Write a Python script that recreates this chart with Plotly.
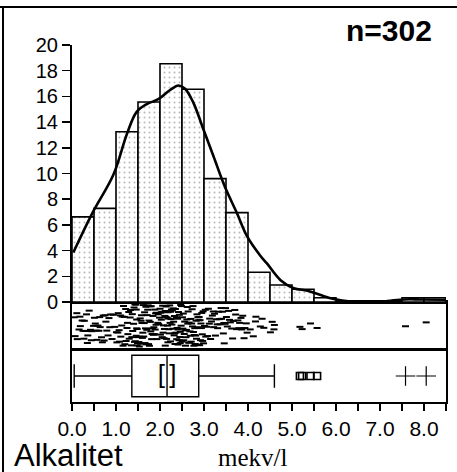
import plotly.graph_objects as go

# ---------------- data ----------------
# individual observations (mekv/l), estimated from the strip plot / histogram
values_bin_00 = [0.05, 0.07, 0.11, 0.12, 0.16, 0.18, 0.19, 0.23, 0.25, 0.27,
                 0.28, 0.31, 0.33, 0.35, 0.36, 0.39, 0.42, 0.44, 0.45, 0.49]
values_bin_05 = [0.51, 0.53, 0.55, 0.57, 0.59, 0.61, 0.63, 0.64, 0.67, 0.69,
                 0.71, 0.73, 0.75, 0.77, 0.79, 0.82, 0.84, 0.86, 0.88, 0.91,
                 0.94, 0.97]
values_bin_10 = [1.01, 1.02, 1.04, 1.05, 1.07, 1.08, 1.10, 1.11, 1.13, 1.14,
                 1.16, 1.17, 1.19, 1.20, 1.22, 1.23, 1.25, 1.26, 1.27, 1.29,
                 1.30, 1.32, 1.33, 1.35, 1.36, 1.37, 1.38, 1.40, 1.41, 1.42,
                 1.43, 1.44, 1.45, 1.46, 1.46, 1.47, 1.47, 1.48, 1.48, 1.49]
values_bin_15 = [1.51, 1.52, 1.53, 1.54, 1.55, 1.56, 1.57, 1.58, 1.59, 1.60,
                 1.61, 1.62, 1.63, 1.64, 1.65, 1.66, 1.67, 1.68, 1.69, 1.70,
                 1.71, 1.72, 1.73, 1.74, 1.75, 1.76, 1.77, 1.78, 1.79, 1.80,
                 1.81, 1.82, 1.83, 1.84, 1.85, 1.86, 1.87, 1.88, 1.89, 1.90,
                 1.91, 1.92, 1.93, 1.95, 1.96, 1.97, 1.99]
values_bin_20 = [2.00, 2.01, 2.02, 2.03, 2.04, 2.05, 2.06, 2.07, 2.08, 2.09,
                 2.10, 2.11, 2.12, 2.13, 2.14, 2.15, 2.16, 2.17, 2.18, 2.19,
                 2.20, 2.21, 2.22, 2.23, 2.24, 2.25, 2.26, 2.27, 2.28, 2.29,
                 2.30, 2.31, 2.32, 2.33, 2.34, 2.35, 2.36, 2.37, 2.38, 2.39,
                 2.40, 2.41, 2.42, 2.43, 2.44, 2.45, 2.46, 2.47, 2.48, 2.49,
                 2.12, 2.18, 2.24, 2.33, 2.41, 2.46]
values_bin_25 = [2.50, 2.51, 2.52, 2.53, 2.54, 2.55, 2.56, 2.57, 2.58, 2.59,
                 2.60, 2.61, 2.62, 2.63, 2.64, 2.65, 2.66, 2.67, 2.68, 2.69,
                 2.70, 2.71, 2.72, 2.73, 2.74, 2.75, 2.76, 2.77, 2.78, 2.79,
                 2.80, 2.81, 2.82, 2.83, 2.84, 2.85, 2.86, 2.87, 2.88, 2.89,
                 2.90, 2.91, 2.92, 2.93, 2.94, 2.95, 2.96, 2.97, 2.98, 2.99]
values_bin_30 = [3.01, 3.03, 3.04, 3.06, 3.08, 3.10, 3.12, 3.13, 3.15, 3.17,
                 3.19, 3.21, 3.22, 3.24, 3.26, 3.28, 3.30, 3.31, 3.33, 3.35,
                 3.37, 3.39, 3.40, 3.42, 3.44, 3.45, 3.46, 3.48, 3.49]
values_bin_35 = [3.51, 3.53, 3.56, 3.58, 3.60, 3.63, 3.65, 3.67, 3.70, 3.72,
                 3.74, 3.77, 3.79, 3.81, 3.84, 3.86, 3.88, 3.91, 3.93, 3.96,
                 3.98]
values_bin_40 = [4.05, 4.12, 4.17, 4.18, 4.28, 4.32, 4.36]
values_bin_45 = [4.51, 4.55, 4.59, 4.60]
values_mild = [5.18, 5.23, 5.42, 5.57]
values_far = [7.58, 8.05]

values = (values_bin_00 + values_bin_05 + values_bin_10 + values_bin_15 +
          values_bin_20 + values_bin_25 + values_bin_30 + values_bin_35 +
          values_bin_40 + values_bin_45 + values_mild + values_far)

# density curve (percent per 0.5 bin)
curve_x = [0.03, 0.46, 0.94, 1.25, 1.47, 1.70, 1.97, 2.23, 2.42, 2.57, 2.76,
           2.99, 3.22, 3.47, 3.75, 3.98, 4.28, 4.43, 4.74, 5.04, 5.35, 5.65,
           5.95, 6.33, 6.86, 7.17, 7.55, 7.93, 8.50]
curve_y = [3.85, 6.9, 9.9, 13.1, 14.8, 15.4, 15.8, 16.5, 16.85, 16.6, 15.5,
           13.4, 11.3, 9.0, 6.9, 5.1, 3.6, 3.0, 1.7, 1.07, 0.88, 0.54,
           0.23, 0.03, 0.0, 0.08, 0.2, 0.2, 0.18]

# box plot statistics
box_q1 = 1.36
box_median = 2.16
box_q3 = 2.88
box_low = 0.05
box_high = 4.60
median_ci = [2.03, 2.29]

x_ticks = [0, 0.5, 1, 1.5, 2, 2.5, 3, 3.5, 4, 4.5, 5, 5.5, 6, 6.5, 7, 7.5, 8, 8.5]
x_ticktext = ["0.0", "", "1.0", "", "2.0", "", "3.0", "", "4.0", "", "5.0", "",
              "6.0", "", "7.0", "", "8.0", ""]
y_ticks = [0, 2, 4, 6, 8, 10, 12, 14, 16, 18, 20]

n_label = "n=302"
title_label = "Alkalitet"
unit_label = "mekv/l"

# ---------------- figure ----------------
W, H = 457, 472
def py(p):
    return 1 - p / H
def px(p):
    return p / W

X0, X1 = px(72), px(446)
FONT = "Liberation Sans, Arial, sans-serif"

fig = go.Figure()

# histogram (percent)
fig.add_trace(go.Histogram(
    x=values, histnorm="percent",
    xbins=dict(start=0, end=8.5, size=0.5), autobinx=False,
    marker=dict(color="white",
                line=dict(color="black", width=1.6),
                pattern=dict(shape=".", fgcolor="#b8b8b8", bgcolor="white",
                             size=5, solidity=0.12)),
    xaxis="x3", yaxis="y3", showlegend=False))

fig.add_trace(go.Scatter(
    x=curve_x, y=curve_y, mode="lines", line=dict(color="black", width=2.6, shape="spline"),
    xaxis="x3", yaxis="y3", showlegend=False))

# strip panel: points jittered by the library
fig.add_trace(go.Box(
    x=values, y0=0, orientation="h", boxpoints="all", jitter=1, pointpos=0,
    width=0.9, fillcolor="rgba(0,0,0,0)", line=dict(color="rgba(0,0,0,0)", width=0),
    marker=dict(symbol="line-ew", size=5, color="black",
                line=dict(color="black", width=2)),
    xaxis="x2", yaxis="y2", showlegend=False, hoverinfo="x"))

# box plot
fig.add_trace(go.Box(
    q1=[box_q1], median=[box_median], q3=[box_q3],
    lowerfence=[box_low], upperfence=[box_high], y=[0],
    orientation="h", width=0.8, whiskerwidth=0.57,
    fillcolor="white", line=dict(color="black", width=1.4),
    boxpoints=False, xaxis="x", yaxis="y", showlegend=False))

fig.add_trace(go.Scatter(
    x=median_ci, y=[0, 0], mode="text", text=["[", "]"],
    textfont=dict(family=FONT, size=26, color="black"),
    xaxis="x", yaxis="y", showlegend=False))

fig.add_trace(go.Scatter(
    x=values_mild, y=[0] * len(values_mild), mode="markers",
    marker=dict(symbol="square-open", size=7, color="black",
                line=dict(color="black", width=1.6)),
    xaxis="x", yaxis="y", showlegend=False))

fig.add_trace(go.Scatter(
    x=values_far, y=[0] * len(values_far), mode="markers",
    marker=dict(symbol="cross-thin-open", size=14, color="black",
                line=dict(color="black", width=1.2)),
    xaxis="x", yaxis="y", showlegend=False))

common_x = dict(range=[0, 8.5], showgrid=False, zeroline=False, domain=[X0, X1],
                automargin=False)

fig.update_layout(
    template="none",
    width=W, height=H, autosize=False,
    margin=dict(l=0, r=0, t=0, b=0, pad=0),
    paper_bgcolor="white", plot_bgcolor="white",
    font=dict(family=FONT, color="black"),
    xaxis=dict(**common_x, anchor="y", showline=True, linecolor="black", linewidth=2,
               mirror=True, ticks="outside", ticklen=7, tickwidth=1.5, tickcolor="black",
               tickvals=x_ticks, ticktext=x_ticktext,
               tickfont=dict(family=FONT, size=21, color="black")),
    yaxis=dict(domain=[py(402), py(350)], range=[-0.5, 0.5], showgrid=False,
               zeroline=False, showticklabels=False, showline=True, linecolor="black",
               linewidth=2, mirror=True, ticks="", automargin=False),
    xaxis2=dict(**common_x, anchor="y2", showline=True, linecolor="black", linewidth=2,
                mirror=True, showticklabels=False, ticks=""),
    yaxis2=dict(domain=[py(349), py(302)], range=[-0.5, 0.5], showgrid=False,
                zeroline=False, showticklabels=False, showline=True, linecolor="black",
                linewidth=2, mirror=True, ticks="", automargin=False),
    xaxis3=dict(**common_x, anchor="y3", showline=True, linecolor="black", linewidth=2,
                showticklabels=False, ticks=""),
    yaxis3=dict(domain=[py(302), py(45)], range=[0, 20], showgrid=False, zeroline=False,
                showline=True, linecolor="black", linewidth=2, ticks="outside",
                ticklen=8, tickwidth=1.5, tickcolor="black", tickvals=y_ticks,
                tickfont=dict(family=FONT, size=20, color="black"), automargin=False),
    bargap=0,
    annotations=[
        dict(text="<b>" + n_label + "</b>", x=px(434), y=py(30), xref="paper", yref="paper",
             xanchor="right", yanchor="middle", showarrow=False,
             font=dict(family=FONT, size=30, color="black")),
        dict(text=title_label, x=px(12), y=py(455), xref="paper", yref="paper",
             xanchor="left", yanchor="middle", showarrow=False,
             font=dict(family=FONT, size=31, color="black")),
        dict(text=unit_label, x=px(253), y=py(457), xref="paper", yref="paper",
             xanchor="center", yanchor="middle", showarrow=False,
             font=dict(family="Liberation Serif, Times New Roman, serif", size=25,
                       color="black")),
    ],
    shapes=[
        dict(type="line", xref="paper", yref="paper", x0=0, x1=1, y0=py(7), y1=py(7),
             line=dict(color="black", width=2)),
        dict(type="line", xref="paper", yref="paper", x0=px(3), x1=px(3), y0=0, y1=py(7),
             line=dict(color="black", width=2)),
    ],
)

fig.write_html(
    "out.html",
    config={"displayModeBar": False, "staticPlot": True},
    post_script="document.body.style.margin='0';document.body.style.padding='0';"
                "document.body.style.overflow='hidden';",
)
